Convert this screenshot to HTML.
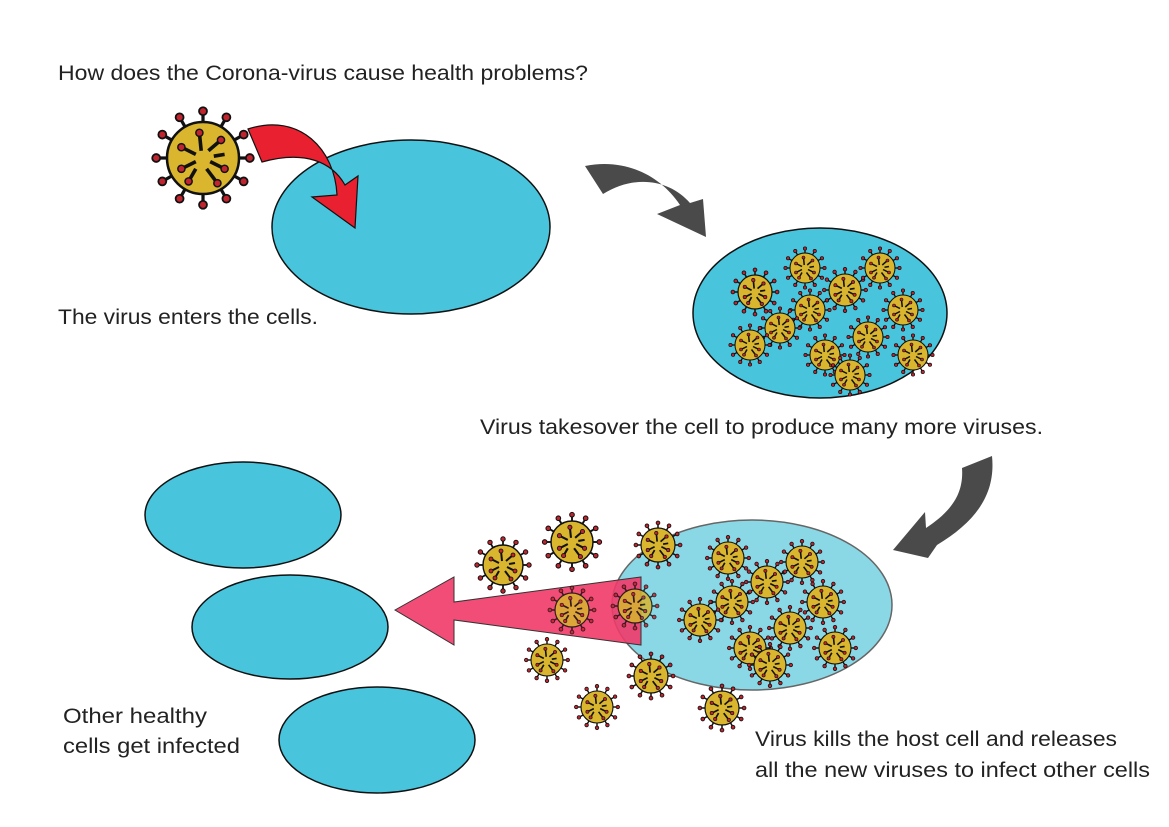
<!DOCTYPE html>
<html><head><meta charset="utf-8"><style>
html,body{margin:0;padding:0;background:#fff}
svg{display:block}
text{font-family:"Liberation Sans",sans-serif;fill:#222}
</style></head><body>
<svg width="1169" height="827" viewBox="0 0 1169 827" xmlns="http://www.w3.org/2000/svg">
<defs>
<g id="v">
 <g stroke="#111" stroke-width="0.09">
  <line x1="0" y1="-1" x2="0" y2="-1.25"/><line x1="0.5" y1="-0.87" x2="0.62" y2="-1.08"/>
  <line x1="0.87" y1="-0.5" x2="1.08" y2="-0.62"/><line x1="1" y1="0" x2="1.25" y2="0"/>
  <line x1="0.87" y1="0.5" x2="1.08" y2="0.62"/><line x1="0.5" y1="0.87" x2="0.62" y2="1.08"/>
  <line x1="0" y1="1" x2="0" y2="1.25"/><line x1="-0.5" y1="0.87" x2="-0.62" y2="1.08"/>
  <line x1="-0.87" y1="0.5" x2="-1.08" y2="0.62"/><line x1="-1" y1="0" x2="-1.25" y2="0"/>
  <line x1="-0.87" y1="-0.5" x2="-1.08" y2="-0.62"/><line x1="-0.5" y1="-0.87" x2="-0.62" y2="-1.08"/>
 </g>
 <g fill="#c0242f" stroke="#111" stroke-width="0.05">
  <circle cx="0" cy="-1.3" r="0.11"/><circle cx="0.65" cy="-1.13" r="0.11"/><circle cx="1.13" cy="-0.65" r="0.11"/>
  <circle cx="1.3" cy="0" r="0.11"/><circle cx="1.13" cy="0.65" r="0.11"/><circle cx="0.65" cy="1.13" r="0.11"/>
  <circle cx="0" cy="1.3" r="0.11"/><circle cx="-0.65" cy="1.13" r="0.11"/><circle cx="-1.13" cy="0.65" r="0.11"/>
  <circle cx="-1.3" cy="0" r="0.11"/><circle cx="-1.13" cy="-0.65" r="0.11"/><circle cx="-0.65" cy="-1.13" r="0.11"/>
 </g>
 <circle r="1" fill="#d9b62e" stroke="#111" stroke-width="0.07"/>
 <g stroke="#111" stroke-width="0.1">
  <line x1="-0.1" y1="-0.7" x2="-0.05" y2="-0.2"/><line x1="0.5" y1="-0.5" x2="0.15" y2="-0.2"/>
  <line x1="-0.6" y1="-0.3" x2="-0.2" y2="-0.1"/><line x1="0.2" y1="0.1" x2="0.6" y2="0.3"/>
  <line x1="-0.6" y1="0.3" x2="-0.2" y2="0.1"/><line x1="0.1" y1="0.3" x2="0.4" y2="0.7"/>
  <line x1="-0.2" y1="0.3" x2="-0.4" y2="0.65"/><line x1="0.6" y1="-0.1" x2="0.3" y2="-0.05"/>
 </g>
 <g fill="#c0242f" stroke="#111" stroke-width="0.04">
  <circle cx="-0.1" cy="-0.7" r="0.1"/><circle cx="0.5" cy="-0.5" r="0.1"/><circle cx="-0.6" cy="-0.3" r="0.1"/>
  <circle cx="0.6" cy="0.3" r="0.1"/><circle cx="-0.6" cy="0.3" r="0.1"/><circle cx="0.4" cy="0.7" r="0.1"/>
  <circle cx="-0.4" cy="0.65" r="0.1"/>
 </g>
</g>
</defs>

<text x="58" y="80" font-size="21" textLength="530" lengthAdjust="spacingAndGlyphs">How does the Corona-virus cause health problems?</text>

<use href="#v" transform="translate(203,158) scale(36)"/>
<ellipse cx="411" cy="227" rx="139" ry="87" fill="#48c4dc" stroke="#111" stroke-width="1.5"/>
<path d="M248,129 C300,112 335,150 337,195 L312,197 L355,228 L358,176 L345,185 C332,162 305,150 262,162 Z" fill="#e8202f" stroke="#111" stroke-width="1.2"/>

<text x="58" y="324" font-size="21" textLength="260" lengthAdjust="spacingAndGlyphs">The virus enters the cells.</text>

<path d="M585,166 C625,158 660,175 680,205 L657,214 L706,237 L703,199 L690,203 C670,180 635,174 603,194 Z" fill="#4a4a4a"/>

<ellipse cx="820" cy="313" rx="127" ry="85" fill="#48c4dc" stroke="#111" stroke-width="1.5"/>
<g>
<use href="#v" transform="translate(755,292) scale(17)"/>
<use href="#v" transform="translate(805,268) scale(15)"/>
<use href="#v" transform="translate(845,290) scale(16)"/>
<use href="#v" transform="translate(880,268) scale(15)"/>
<use href="#v" transform="translate(903,310) scale(15)"/>
<use href="#v" transform="translate(810,310) scale(15)"/>
<use href="#v" transform="translate(780,328) scale(15)"/>
<use href="#v" transform="translate(750,345) scale(15)"/>
<use href="#v" transform="translate(868,337) scale(15)"/>
<use href="#v" transform="translate(825,355) scale(15)"/>
<use href="#v" transform="translate(850,375) scale(15)"/>
<use href="#v" transform="translate(913,355) scale(15)"/>
</g>

<text x="480" y="434" font-size="21" textLength="563" lengthAdjust="spacingAndGlyphs">Virus takesover the cell to produce many more viruses.</text>

<path d="M962,468 L992,456 C996,495 975,522 937,545 L928,558 L893,550 L925,512 L926,528 C950,512 964,495 962,468 Z" fill="#4a4a4a"/>

<ellipse cx="243" cy="515" rx="98" ry="53" fill="#48c4dc" stroke="#111" stroke-width="1.5"/>
<ellipse cx="290" cy="627" rx="98" ry="52" fill="#48c4dc" stroke="#111" stroke-width="1.5"/>
<ellipse cx="377" cy="740" rx="98" ry="53" fill="#48c4dc" stroke="#111" stroke-width="1.5"/>

<ellipse cx="752" cy="605" rx="140" ry="85" fill="#8ad8e6" stroke="#666" stroke-width="1.5"/>
<use href="#v" transform="translate(728,558) scale(16)"/>
<use href="#v" transform="translate(802,562) scale(16)"/>
<use href="#v" transform="translate(767,582) scale(16)"/>
<use href="#v" transform="translate(732,602) scale(16)"/>
<use href="#v" transform="translate(823,602) scale(16)"/>
<use href="#v" transform="translate(700,620) scale(16)"/>
<use href="#v" transform="translate(790,628) scale(16)"/>
<use href="#v" transform="translate(750,648) scale(16)"/>
<use href="#v" transform="translate(835,648) scale(16)"/>
<use href="#v" transform="translate(770,665) scale(16)"/>

<use href="#v" transform="translate(503,565) scale(20)"/>
<use href="#v" transform="translate(572,542) scale(21)"/>
<use href="#v" transform="translate(658,545) scale(17)"/>
<use href="#v" transform="translate(547,660) scale(16)"/>
<use href="#v" transform="translate(651,676) scale(17)"/>
<use href="#v" transform="translate(597,707) scale(16)"/>
<use href="#v" transform="translate(722,708) scale(17)"/>

<path d="M395,610 L454,577 L454,602 L641,577 L641,645 L454,620 L454,645 Z" fill="#ef3a68" fill-opacity="0.9" stroke="#333" stroke-width="1"/>
<use href="#v" transform="translate(572,610) scale(17)" opacity="0.85"/>
<use href="#v" transform="translate(635,606) scale(17)" opacity="0.85"/>

<text x="63" y="723" font-size="21" textLength="144" lengthAdjust="spacingAndGlyphs">Other healthy</text>
<text x="63" y="753" font-size="21" textLength="177" lengthAdjust="spacingAndGlyphs">cells get infected</text>
<text x="755" y="746" font-size="21" textLength="362" lengthAdjust="spacingAndGlyphs">Virus kills the host cell and releases</text>
<text x="755" y="777" font-size="21" textLength="395" lengthAdjust="spacingAndGlyphs">all the new viruses to infect other cells</text>
</svg>
</body></html>
